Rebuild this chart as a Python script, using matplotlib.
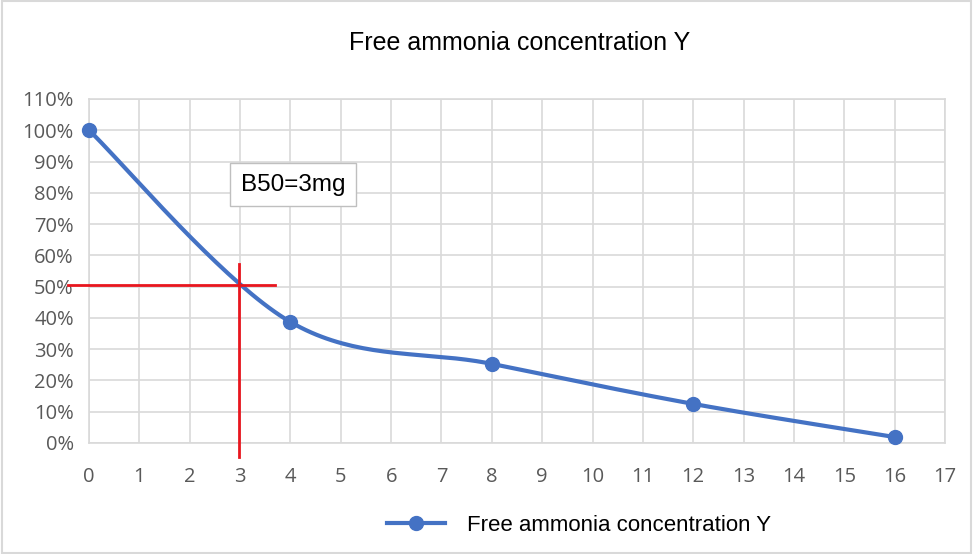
import numpy as np
import matplotlib.pyplot as plt
from matplotlib.patches import Rectangle
from matplotlib.ticker import PercentFormatter

plt.rcParams['font.family'] = ['Liberation Sans', 'DejaVu Sans']

dose = [0, 4, 8, 12, 16]
conc = [1.00, 0.387, 0.253, 0.125, 0.019]
b50_x = 3
b50_y = 0.505
series_name = 'Free ammonia concentration Y'
BLUE = '#4472C4'
RED = '#E8161E'
GRID = '#D9D9D9'


def excel_smooth(xs, ys, n=40):
    # catmull-rom style bezier like excel's "smoothed line"
    p = np.column_stack([xs, ys]).astype(float)
    out = [p[0]]
    for i in range(len(p) - 1):
        p0 = p[i - 1] if i > 0 else p[i]
        p1, p2 = p[i], p[i + 1]
        p3 = p[i + 2] if i + 2 < len(p) else p[i + 1]
        c1 = p1 + (p2 - p0) / 6
        c2 = p2 - (p3 - p1) / 6
        t = np.linspace(0, 1, n)[1:, None]
        seg = ((1 - t) ** 3) * p1 + 3 * ((1 - t) ** 2) * t * c1 + 3 * (1 - t) * t ** 2 * c2 + t ** 3 * p2
        out.extend(seg)
    out = np.array(out)
    return out[:, 0], out[:, 1]


fig = plt.figure(figsize=(9.73, 5.54), dpi=100)
ax = fig.add_axes([0.0915, 0.2004, 0.8797, 0.6209])

sx, sy = excel_smooth(dose, conc)
ax.plot(sx, sy, color=BLUE, lw=3, zorder=3, solid_capstyle='round')
ax.plot(dose, conc, 'o', color=BLUE, ms=10, zorder=4, clip_on=False)

ax.set_xlim(0, 17)
ax.set_ylim(0, 1.1)
ax.set_xticks(range(0, 18))
ax.set_yticks(np.arange(0, 1.11, 0.1))
ax.yaxis.set_major_formatter(PercentFormatter(1.0, decimals=0))
ax.grid(True, color=GRID, lw=1.2, zorder=0)
for s in ax.spines.values():
    s.set_color(GRID)
    s.set_linewidth(1.2)
ax.tick_params(length=0, labelsize=14.5, labelcolor='#595959')
ax.tick_params(axis='y', pad=11)
ax.tick_params(axis='x', pad=17)
for lab in ax.get_xticklabels() + ax.get_yticklabels():
    lab.set_family(['Open Sans', 'DejaVu Sans'])

# B50 marker lines
ax.plot([-0.42, 3.69], [b50_y, b50_y], color=RED, lw=2, clip_on=False, zorder=5)
ax.plot([b50_x - 0.02, b50_x - 0.02], [-0.045, 0.572], color=RED, lw=2, clip_on=False, zorder=5)

ax.text(4.05, 0.826, 'B50=3mg', fontsize=17.5, ha='center', va='center', zorder=6,
        bbox=dict(boxstyle='square,pad=0.44', fc='white', ec='#BFBFBF', lw=1))

fig.text(0.534, 0.923, series_name, fontsize=18, ha='center', va='center')

handle, = ax.plot([], [], '-o', color=BLUE, lw=3, ms=10)
fig.legend([handle], [series_name], loc='center', bbox_to_anchor=(0.595, 0.052),
           frameon=False, fontsize=16, handlelength=2.6, handletextpad=1.0)

fig.patches.append(Rectangle((0.002, 0.002), 0.996, 0.996, transform=fig.transFigure,
                             fill=False, ec=GRID, lw=1.5))

fig.savefig('out.png', dpi=100)
